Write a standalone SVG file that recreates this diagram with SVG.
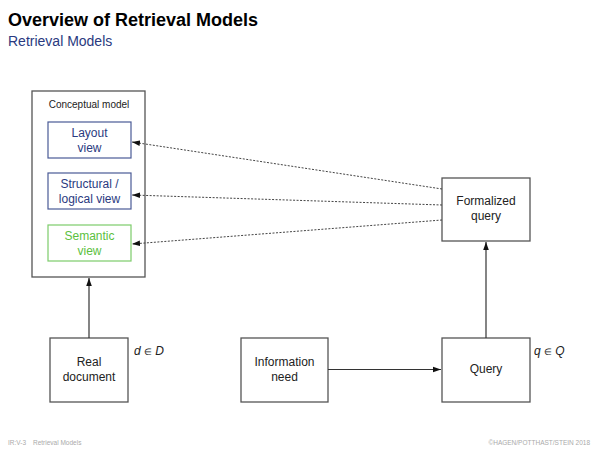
<svg xmlns="http://www.w3.org/2000/svg" width="600" height="450" viewBox="0 0 600 450">
<style>
text{font-family:"Liberation Sans",Arial,sans-serif;}
.box{fill:#fff;stroke:#555;stroke-width:1.3;}
.lbl{font-size:12px;fill:#222;text-anchor:middle;}
.blue{fill:#fff;stroke:#4a5a96;stroke-width:1.2;}
.bt{font-size:12px;fill:#2a3a80;text-anchor:middle;}
.green{fill:#fff;stroke:#7ccc6a;stroke-width:1.2;}
.gt{font-size:12px;fill:#5cbf3e;text-anchor:middle;}
.solid{stroke:#333;stroke-width:1.2;fill:none;}
.dot{stroke:#444;stroke-width:1;stroke-dasharray:2,1.5;fill:none;}
.math{font-size:12px;font-style:italic;fill:#222;}
.el{font-size:9px;font-style:normal;}
.foot{font-size:6.5px;fill:#aaa;}
</style>
<defs>
<marker id="ah" viewBox="0 0 10 10" refX="10" refY="5" markerWidth="8" markerHeight="8" markerUnits="userSpaceOnUse" orient="auto">
<path d="M0,1.5 L10,5 L0,8.5 z" fill="#111"/>
</marker>
</defs>
<text x="8" y="26" font-size="18" font-weight="bold" fill="#000">Overview of Retrieval Models</text>
<text x="8" y="46" font-size="14" fill="#2a3a80">Retrieval Models</text>

<g id="conceptual">
<rect class="box" x="32" y="91" width="113" height="186"/>
<text x="89" y="108" font-size="10" fill="#222" text-anchor="middle">Conceptual model</text>
</g>
<g id="layout">
<rect class="blue" x="48" y="122" width="83" height="36"/>
<text class="bt" x="89.5" y="137">Layout</text>
<text class="bt" x="89.5" y="152">view</text>
</g>
<g id="structural">
<rect class="blue" x="48" y="173" width="83" height="36"/>
<text class="bt" x="89.5" y="188">Structural /</text>
<text class="bt" x="89.5" y="203">logical view</text>
</g>
<g id="semantic">
<rect class="green" x="48" y="225" width="83" height="36"/>
<text class="gt" x="89.5" y="240">Semantic</text>
<text class="gt" x="89.5" y="255">view</text>
</g>
<g id="formalized">
<rect class="box" x="442" y="178" width="88" height="63"/>
<text class="lbl" x="486" y="205">Formalized</text>
<text class="lbl" x="486" y="220">query</text>
</g>
<g id="realdoc">
<rect class="box" x="50" y="338" width="78" height="64"/>
<text class="lbl" x="89" y="366">Real</text>
<text class="lbl" x="89" y="381">document</text>
</g>
<g id="infoneed">
<rect class="box" x="241" y="338" width="87" height="64"/>
<text class="lbl" x="284.5" y="366">Information</text>
<text class="lbl" x="284.5" y="381">need</text>
</g>
<g id="query">
<rect class="box" x="442" y="338" width="88" height="64"/>
<text class="lbl" x="486" y="373">Query</text>
</g>
<text class="math" x="134" y="355">d <tspan class="el">∈</tspan> D</text>
<text class="math" x="534" y="355">q <tspan class="el">∈</tspan> Q</text>

<g id="connectors">
<line class="solid" x1="89" y1="338" x2="89" y2="278" marker-end="url(#ah)"/>
<line class="solid" x1="486" y1="338" x2="486" y2="242" marker-end="url(#ah)"/>
<line class="solid" x1="328" y1="369.5" x2="441" y2="369.5" marker-end="url(#ah)"/>
<line class="dot" x1="442" y1="189" x2="132" y2="142" marker-end="url(#ah)"/>
<line class="dot" x1="442" y1="205" x2="132" y2="195" marker-end="url(#ah)"/>
<line class="dot" x1="442" y1="220" x2="132" y2="244" marker-end="url(#ah)"/>
</g>

<text class="foot" x="8" y="445">IR:V-3</text>
<text class="foot" x="33" y="445">Retrieval Models</text>
<text class="foot" x="590" y="445" text-anchor="end">©HAGEN/POTTHAST/STEIN 2018</text>
</svg>
